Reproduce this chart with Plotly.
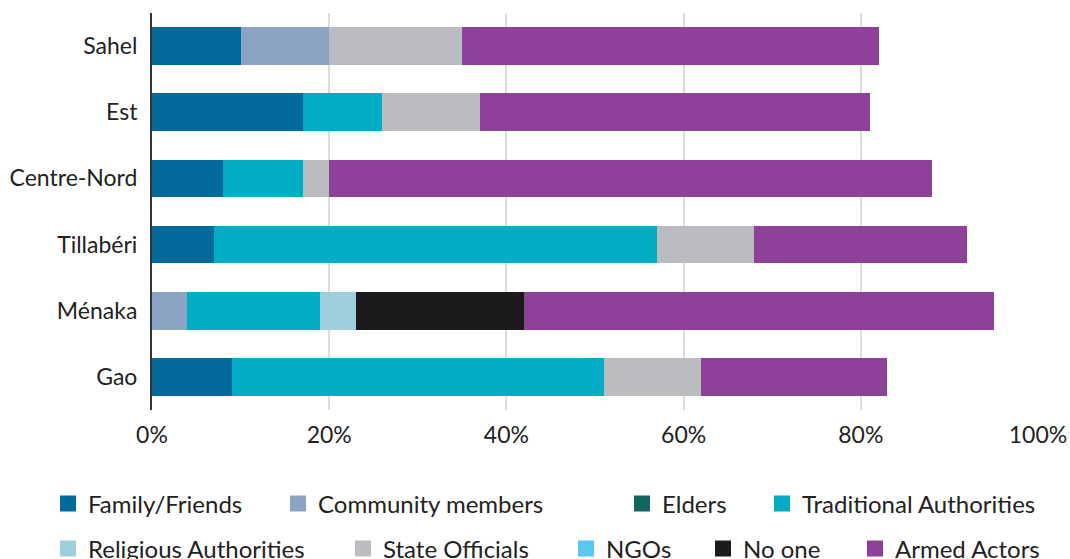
import plotly.graph_objects as go

regions = ['Sahel', 'Est', 'Centre-Nord', 'Tillabéri', 'Ménaka', 'Gao']

family_friends = [10, 17, 8, 7, 0, 9]
community_members = [10, 0, 0, 0, 4, 0]
elders = [0, 0, 0, 0, 0, 0]
traditional_authorities = [0, 9, 9, 50, 15, 42]
religious_authorities = [0, 0, 0, 0, 4, 0]
state_officials = [15, 11, 3, 11, 0, 11]
ngos = [0, 0, 0, 0, 0, 0]
no_one = [0, 0, 0, 0, 19, 0]
armed_actors = [47, 44, 68, 24, 53, 21]

series = [
    ('Family/Friends', family_friends, '#036b9b'),
    ('Community members', community_members, '#8ba4c4'),
    ('Elders', elders, '#13665f'),
    ('Traditional Authorities', traditional_authorities, '#00adc4'),
    ('Religious Authorities', religious_authorities, '#9dcfdc'),
    ('State Officials', state_officials, '#bbbcbf'),
    ('NGOs', ngos, '#58c8f2'),
    ('No one', no_one, '#1c1a1b'),
    ('Armed Actors', armed_actors, '#8e4198'),
]

# legend placement (text start x, row centre y) in page pixels
legend_spots = [
    (89, 504), (319, 504), (663, 504), (803, 504),
    (89, 549), (384, 549), (607, 549), (744, 549), (896, 549),
]

W, H = 1070, 559
FONT = 'Lato'

fig = go.Figure()
legends = {}
for i, (name, vals, color) in enumerate(series):
    key = 'legend' if i == 0 else f'legend{i + 1}'
    fig.add_trace(go.Bar(
        y=regions, x=vals, name=name, orientation='h',
        marker=dict(color=color, line=dict(width=0)),
        showlegend=False,
    ))
    # legend entry with a bigger square swatch
    fig.add_trace(go.Scatter(
        x=[None], y=[None], mode='markers', name=name,
        marker=dict(symbol='square', size=16, color=color, line=dict(width=0)),
        legend=key, showlegend=True, hoverinfo='skip',
    ))
    tx, ty = legend_spots[i]
    legends[key] = dict(
        x=(tx - 41) / W, y=1 - ty / H,
        xref='container', yref='container',
        xanchor='left', yanchor='middle',
        bgcolor='rgba(0,0,0,0)', borderwidth=0,
        itemsizing='trace',
        font=dict(family=FONT, size=24, color='#222222'),
    )

fig.update_layout(
    barmode='stack',
    bargap=0.43,
    width=W, height=H,
    margin=dict(l=152, r=32, t=13, b=149, autoexpand=False),
    plot_bgcolor='white',
    paper_bgcolor='white',
    font=dict(family=FONT, size=23, color='#222222'),
    **legends,
)

fig.update_xaxes(
    range=[0, 100],
    tickvals=[0, 20, 40, 60, 80, 100],
    ticktext=['0%', '20%', '40%', '60%', '80%', '100%'],
    showgrid=True, gridcolor='#dcdcdc', gridwidth=1.5,
    zeroline=False, showline=False, ticks='',
    ticklen=0, ticklabelstandoff=9, tickfont=dict(size=23),
)
fig.update_yaxes(
    categoryorder='array', categoryarray=regions[::-1],
    showgrid=False, zeroline=False,
    showline=True, linecolor='#333333', linewidth=2,
    ticks='', ticklabelstandoff=8, tickfont=dict(size=23),
)

fig.write_html('out.html', config={'displayModeBar': False},
               post_script="document.body.style.margin='0';")
